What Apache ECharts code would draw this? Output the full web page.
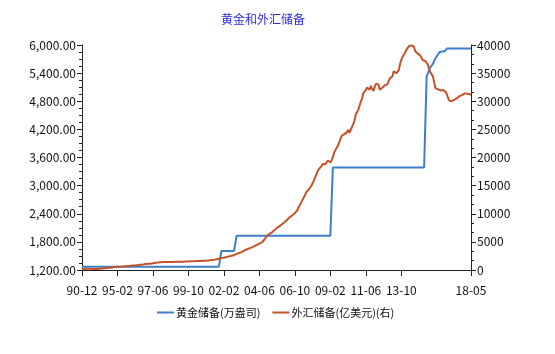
<!DOCTYPE html>
<html>
<head>
<meta charset="utf-8">
<script src="https://cdn.jsdelivr.net/npm/echarts@6/dist/echarts.min.js"></script>
<style>
html,body{margin:0;padding:0;background:#fff;}
#c{width:555px;height:354px;}
</style>
</head>
<body>
<div id="c"></div>
<script>
// ---- categories ----
const earlyCategories = ['90-12','91-03','91-06','91-09','91-12','92-03','92-06','92-09','92-12','93-03','93-06','93-09',
  '93-10','93-11','93-12','94-01','94-02','94-03','94-04','94-05','94-06','94-07','94-08','94-09','94-10','94-11','94-12','95-01'];
const monthlyStart = [1995, 2];
const monthlyEnd = [2018, 5];
const categories = earlyCategories.slice();
for (let y = monthlyStart[0], m = monthlyStart[1]; y < monthlyEnd[0] || (y === monthlyEnd[0] && m <= monthlyEnd[1]); ) {
  categories.push(String(y % 100).padStart(2, '0') + '-' + String(m).padStart(2, '0'));
  m++; if (m > 12) { m = 1; y++; }
}
const shownLabels = ['90-12','95-02','97-06','99-10','02-02','04-06','06-10','09-02','11-06','13-10','18-05'];

// ---- series: 黄金储备(万盎司) ----
const goldReserve = [
  // 90-12 .. 95-01
  1267,1267,1267,1267,1267,1267,1267,1267,1267,1267,1267,1267,1267,1267,1267,1267,1267,1267,1267,1267,1267,1267,1267,1267,1267,1267,1267,1267,
  // 1995 (Feb-Dec)
  1267,1267,1267,1267,1267,1267,1267,1267,1267,1267,1267,
  1267,1267,1267,1267,1267,1267,1267,1267,1267,1267,1267,1267, // 1996
  1267,1267,1267,1267,1267,1267,1267,1267,1267,1267,1267,1267, // 1997
  1267,1267,1267,1267,1267,1267,1267,1267,1267,1267,1267,1267, // 1998
  1267,1267,1267,1267,1267,1267,1267,1267,1267,1267,1267,1267, // 1999
  1267,1267,1267,1267,1267,1267,1267,1267,1267,1267,1267,1267, // 2000
  1267,1267,1267,1267,1267,1267,1267,1267,1267,1267,1267,1608, // 2001
  1608,1608,1608,1608,1608,1608,1608,1608,1608,1608,1608,1929, // 2002
  1929,1929,1929,1929,1929,1929,1929,1929,1929,1929,1929,1929, // 2003
  1929,1929,1929,1929,1929,1929,1929,1929,1929,1929,1929,1929, // 2004
  1929,1929,1929,1929,1929,1929,1929,1929,1929,1929,1929,1929, // 2005
  1929,1929,1929,1929,1929,1929,1929,1929,1929,1929,1929,1929, // 2006
  1929,1929,1929,1929,1929,1929,1929,1929,1929,1929,1929,1929, // 2007
  1929,1929,1929,1929,1929,1929,1929,1929,1929,1929,1929,1929, // 2008
  1929,1929,1929,3389,3389,3389,3389,3389,3389,3389,3389,3389, // 2009
  3389,3389,3389,3389,3389,3389,3389,3389,3389,3389,3389,3389, // 2010
  3389,3389,3389,3389,3389,3389,3389,3389,3389,3389,3389,3389, // 2011
  3389,3389,3389,3389,3389,3389,3389,3389,3389,3389,3389,3389, // 2012
  3389,3389,3389,3389,3389,3389,3389,3389,3389,3389,3389,3389, // 2013
  3389,3389,3389,3389,3389,3389,3389,3389,3389,3389,3389,3389, // 2014
  3389,3389,3389,3389,3389,5331,5395,5461,5527,5542,5600,5666, // 2015
  5719,5760,5803,5846,5862,5862,5862,5862,5862,5924,5924,5924, // 2016
  5924,5924,5924,5924,5924,5924,5924,5924,5924,5924,5924,5924, // 2017
  5924,5924,5924,5924,5924                                     // 2018
];

// ---- series: 外汇储备(亿美元)(右) ----
const forexReserve = [
  // 90-12 .. 95-01
  111,150,170,200,217,230,200,190,194,190,180,190,195,200,212,230,250,280,300,330,350,380,400,430,460,490,516,540,
  // 1995 (Feb-Dec)
  560,580,600,620,630,640,660,680,700,720,736,
  760,780,800,820,840,870,900,930,950,980,1010,1050,            // 1996
  1070,1090,1110,1130,1160,1200,1230,1270,1300,1330,1360,1399,  // 1997
  1400,1410,1410,1420,1420,1410,1410,1410,1420,1420,1430,1450,  // 1998
  1460,1460,1460,1470,1480,1480,1490,1500,1510,1520,1530,1547,  // 1999
  1560,1570,1570,1580,1590,1600,1610,1620,1630,1640,1650,1656,  // 2000
  1680,1710,1750,1760,1800,1800,1860,1900,1950,2000,2050,2122,  // 2001
  2160,2190,2240,2300,2360,2420,2470,2540,2580,2640,2750,2864,  // 2002
  3000,3030,3160,3180,3280,3470,3560,3640,3840,3840,3900,4033,  // 2003
  4150,4250,4400,4450,4700,4700,4830,4900,5140,5420,5750,6099,  // 2004
  6236,6420,6591,6700,6910,7110,7327,7533,7690,7800,7900,8189,  // 2005
  8451,8536,8751,8950,9250,9411,9545,9720,9879,10096,10300,10663, // 2006
  11000,11600,12020,12470,12900,13326,13850,14000,14300,14550,14970,15282, // 2007
  15898,16471,16822,17566,17969,18088,18452,18841,19056,18790,18847,19460, // 2008
  19135,19124,19537,20089,20898,21316,21746,22110,22726,23283,23879,23992, // 2009
  24152,24245,24471,24905,24395,24543,25380,25478,26483,27608,27679,28473, // 2010
  28316,29914,30447,31458,31660,31975,32452,32625,32017,32738,32209,31811, // 2011
  32536,33096,33050,32989,32061,32400,32400,32730,32850,32870,32980,33116, // 2012
  34100,33950,34426,35346,35148,34967,34966,35530,36627,37366,37890,38213, // 2013
  38666,39137,39481,39809,39839,39932,39662,39688,38877,38529,38473,38430, // 2014
  38134,38015,37300,37481,37111,36938,36513,35574,35141,35255,34383,33304, // 2015
  32309,32023,32126,32197,31917,32052,32011,31852,31664,31206,30516,30105, // 2016
  29982,30051,30091,30295,30536,30568,30807,30915,31085,31092,31193,31399, // 2017
  31615,31345,31428,31249,31106                                            // 2018
];

// ---- axis ticks ----
const leftTicks = { min: 1200, max: 6000, step: 600 };
const rightTicks = { min: 0, max: 40000, step: 5000 };

const FONT = "'Noto Sans CJK SC', 'Noto Sans', sans-serif";
const BLUE = '#3f7fc7';
const RED = '#c4532b';

function showIdx(i) { return shownLabels.indexOf(categories[i]) >= 0; }

const chart = echarts.init(document.getElementById('c'), null, { renderer: 'canvas' });
chart.setOption({
  animation: false,
  backgroundColor: '#ffffff',
  textStyle: { fontFamily: FONT },
  title: {
    text: '黄金和外汇储备',
    left: 216, top: 8,
    textStyle: { fontSize: 12, fontWeight: 'normal', color: '#2b2bdb', fontFamily: FONT }
  },
  legend: {
    left: 152, top: 302,
    itemWidth: 17, itemHeight: 2, itemGap: 12,
    icon: 'rect',
    textStyle: { fontSize: 11, color: '#111', fontFamily: FONT, padding: [0, 0, 0, -3] },
    data: ['黄金储备(万盎司)', '外汇储备(亿美元)(右)']
  },
  grid: { left: 82, right: 84, top: 45, bottom: 84, containLabel: false },
  xAxis: {
    type: 'category',
    data: categories,
    boundaryGap: false,
    axisLine: { show: true, lineStyle: { color: '#222', width: 1 } },
    axisTick: { show: true, interval: (i) => showIdx(i), length: 6, lineStyle: { color: '#222' } },
    axisLabel: { interval: (i) => showIdx(i), margin: 14, fontSize: 12, color: '#111', fontFamily: FONT },
    splitLine: { show: false }
  },
  yAxis: [
    {
      type: 'value', position: 'left',
      min: leftTicks.min, max: leftTicks.max, interval: leftTicks.step,
      axisLine: { show: true, lineStyle: { color: '#222', width: 1 } },
      axisTick: { show: true, length: 5, lineStyle: { color: '#222' } },
      minorTick: { show: true, splitNumber: 4, length: 3, lineStyle: { color: '#222' } },
      splitLine: { show: false },
      axisLabel: {
        margin: 6, fontSize: 12, color: '#111', fontFamily: FONT,
        formatter: (v) => v.toLocaleString('en-US', { minimumFractionDigits: 2, maximumFractionDigits: 2 })
      }
    },
    {
      type: 'value', position: 'right',
      min: rightTicks.min, max: rightTicks.max, interval: rightTicks.step,
      axisLine: { show: true, lineStyle: { color: '#222', width: 1 } },
      axisTick: { show: true, length: 5, lineStyle: { color: '#222' } },
      minorTick: { show: true, splitNumber: 3, length: 3, lineStyle: { color: '#222' } },
      splitLine: { show: false },
      axisLabel: { margin: 6, fontSize: 12, color: '#111', fontFamily: FONT, formatter: (v) => String(v) }
    }
  ],
  series: [
    {
      name: '黄金储备(万盎司)', type: 'line', yAxisIndex: 0,
      data: goldReserve, showSymbol: false, symbol: 'none',
      lineStyle: { color: BLUE, width: 2 }, itemStyle: { color: BLUE }
    },
    {
      name: '外汇储备(亿美元)(右)', type: 'line', yAxisIndex: 1,
      data: forexReserve, showSymbol: false, symbol: 'none',
      lineStyle: { color: RED, width: 2 }, itemStyle: { color: RED }
    }
  ]
});
</script>
</body>
</html>
